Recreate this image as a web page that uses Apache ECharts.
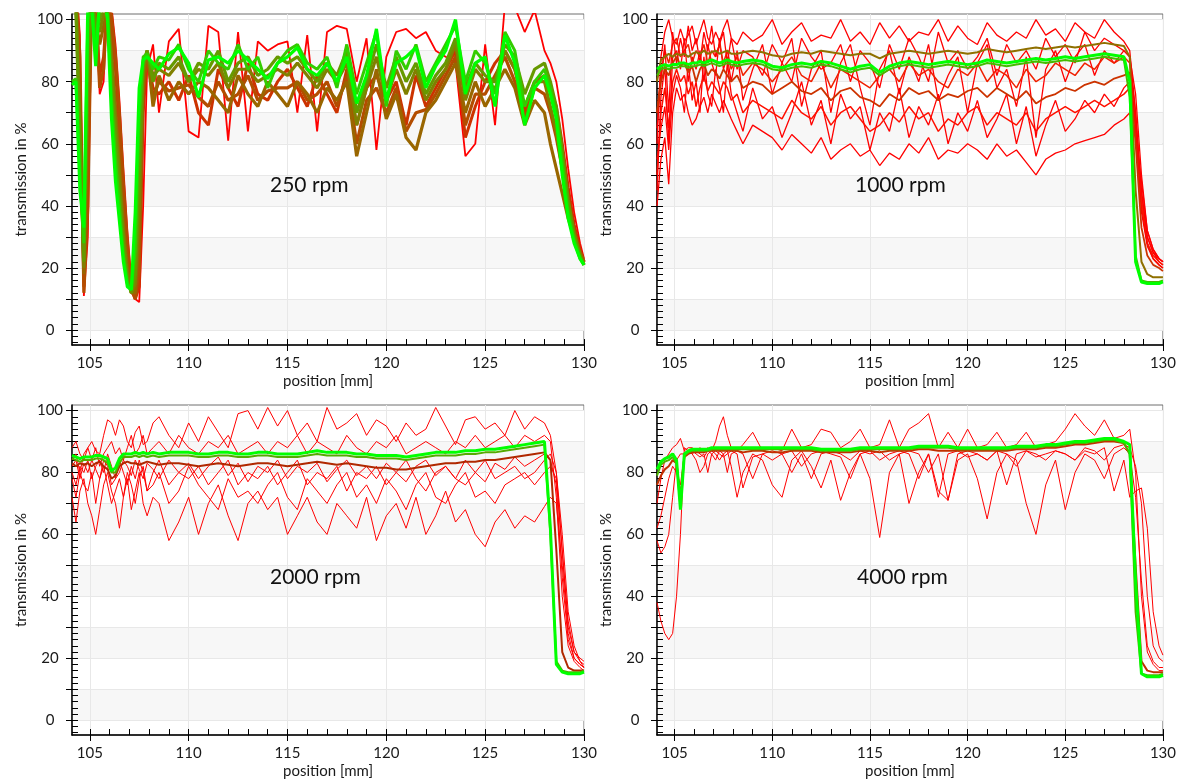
<!DOCTYPE html>
<html><head><meta charset="utf-8">
<script src="https://cdn.jsdelivr.net/npm/echarts@6/dist/echarts.min.js"></script>
<style>html,body{margin:0;padding:0;background:#fff}#c{width:1179px;height:782px}</style>
</head><body><div id="c"></div>
<script>
// ---------- shared x positions (mm) ----------
const positions = [104.1,104.3,104.5,104.7,104.9,105.1,105.3,105.5,105.7,105.9,
 106.1,106.3,106.5,106.7,106.9,107.1,107.3,107.5,107.7,107.9,
 108.2,108.5,109,109.5,110,110.5,111,111.5,112,112.5,
 113,113.5,114,114.5,115,115.5,116,116.5,117,117.5,
 118,118.5,119,119.5,120,120.5,121,121.5,122,122.5,
 123,123.5,124,124.5,125,125.5,126,126.5,127,127.5,
 128,128.3,128.6,128.9,129.2,129.5,129.8,130];

// ---------- tick labels ----------
const xMajorTicks = [105,110,115,120,125,130];
const xMinorTicks = [105,106,107,108,109,110,111,112,113,114,115,116,117,118,119,120,121,122,123,124,125,126,127,128,129,130];
const yMajorTicks = [0,10,20,30,40,50,60,70,80,90,100];
const yLabelTicks = [0,20,40,60,80,100];
const yMinorTicks = [-4,-2,0,2,4,6,8,10,12,14,16,18,20,22,24,26,28,30,32,34,36,38,40,42,44,46,48,50,52,54,56,58,60,62,64,66,68,70,72,74,76,78,80,82,84,86,88,90,92,94,96,98,100];
const panelTitles = ['250 rpm','1000 rpm','2000 rpm','4000 rpm'];

// ---------- 250 rpm ----------
const rpm250_red = [112,112,95,11,30,108,106,76,80,110,
 104,92,74,52,32,16,10,9,40,84,
 92,70,93,97,64,62,98,96,61,96,
 64,93,90,92,93,70,95,64,96,98,
 97,80,94,58,88,96,97,94,96,90,
 88,86,56,60,92,66,105,104,96,103,
 90,86,80,68,52,38,28,23];
const rpm250_brown1 = [112,110,80,14,50,110,104,82,88,108,
 98,84,64,42,24,13,10,14,70,88,
 78,76,80,74,82,70,66,84,78,72,
 86,76,74,80,84,78,72,82,76,70,
 84,66,78,82,74,80,66,82,72,78,
 84,90,62,72,80,86,90,84,70,80,
 82,78,72,60,46,34,26,22];
const rpm250_brown3 = [112,111,88,12,40,110,105,78,84,109,
 101,88,69,47,28,14,10,20,76,89,
 75,80,77,78,79,75,72,80,74,76,
 82,74,77,78,78,80,74,76,80,72,
 82,60,74,78,70,78,64,70,71,76,
 82,88,66,76,76,82,88,80,68,78,
 76,70,62,52,40,32,25,22];
const rpm250_brown2 = [110,106,70,18,70,110,100,92,98,104,
 90,72,54,34,20,12,12,30,82,90,
 72,82,74,80,76,80,78,74,70,82,
 76,72,80,76,72,80,76,70,78,74,
 80,56,70,84,68,76,62,58,70,74,
 80,86,70,80,72,78,84,78,66,74,
 70,60,52,44,36,30,25,22];
const rpm250_olive2 = [108,104,65,20,80,109,98,96,102,103,
 86,67,50,31,18,12,15,40,84,90,
 82,84,82,86,80,84,82,86,78,84,
 84,80,82,84,82,86,82,78,84,80,
 86,66,78,88,74,84,76,84,74,80,
 84,92,74,84,80,80,90,84,72,80,
 80,72,64,52,40,31,24,21];
const rpm250_olive = [104,103,60,22,90,108,95,100,105,102,
 82,62,45,28,16,12,18,52,86,90,
 80,86,84,88,80,86,84,90,80,86,
 88,82,84,88,86,88,84,80,86,82,
 90,70,80,92,78,88,80,86,76,82,
 86,94,78,86,82,80,92,88,76,84,
 86,80,72,58,42,31,24,21];
const rpm250_lime = [80,81,50,28,100,106,90,106,108,102,
 75,55,40,24,15,13,26,68,88,89,
 84,88,87,92,84,80,90,86,84,92,
 84,88,78,86,90,92,86,84,88,78,
 92,76,86,96,72,90,84,92,80,86,
 92,98,80,90,86,76,96,90,72,80,
 84,78,70,54,38,29,23,21];
const rpm250_green = [79,80,45,33,104,104,85,108,108,100,
 68,48,35,22,14,13,38,78,87,88,
 86,84,89,91,86,75,87,88,86,90,
 87,84,81,86,88,91,84,82,86,80,
 88,73,82,97,74,86,88,91,78,85,
 90,100,76,86,88,72,95,86,66,78,
 82,76,68,50,36,28,23,21];

// ---------- 1000 rpm ----------
const rpm1000_redHigh = [60,88,96,100,94,92,97,93,95,98,
 92,96,100,94,92,96,93,97,100,94,
 92,96,93,95,100,92,96,99,93,95,
 94,100,93,96,92,99,94,98,93,96,
 95,100,93,98,94,92,99,95,93,96,
 94,100,95,97,93,99,96,94,100,96,
 93,90,70,45,30,25,23,22];
const rpm1000_redLow = [40,55,62,47,70,78,74,76,70,66,
 68,72,75,70,76,73,70,74,71,68,
 64,60,66,64,62,58,63,60,57,62,
 55,58,60,56,58,53,57,55,60,57,
 62,55,58,57,60,58,55,60,56,58,
 54,50,55,57,58,60,61,62,63,66,
 68,70,62,48,32,26,23,22];
const rpm1000_redMid = [50,70,78,65,80,84,80,82,76,80,
 72,78,82,77,80,78,76,80,78,74,
 76,70,74,72,70,68,74,70,68,72,
 66,70,72,68,64,66,70,67,72,68,
 70,64,68,66,70,72,66,70,68,66,
 70,64,68,70,72,70,72,74,72,74,
 76,78,66,40,28,24,22,21];
const rpm1000_redUpper = [70,82,90,86,92,94,88,90,92,86,
 90,88,92,86,90,88,92,86,90,84,
 88,82,86,84,80,84,88,82,80,86,
 78,84,82,80,78,82,84,80,86,82,
 84,80,78,84,82,86,80,84,82,78,
 84,80,82,86,84,82,86,84,88,86,
 88,86,70,42,28,23,21,20];
const rpm1000_redA = [45,75,85,60,88,90,84,94,80,88,
 84,90,80,92,86,82,94,84,88,80,
 90,74,84,92,76,86,94,72,84,90,
 70,86,92,78,66,84,90,76,88,80,
 92,74,82,88,70,86,92,78,84,72,
 88,62,84,90,80,88,92,82,90,86,
 90,88,76,50,32,26,23,22];
const rpm1000_redB = [55,65,72,58,76,82,78,70,86,74,
 80,70,88,76,72,84,78,70,86,76,
 70,64,78,68,72,62,70,80,66,74,
 60,76,68,72,58,70,64,78,62,72,
 66,76,60,70,64,74,62,68,76,60,
 72,56,66,74,64,68,74,70,76,72,
 78,80,68,44,30,25,22,21];
const rpm1000_redC = [65,80,92,70,96,86,94,88,98,90,
 94,86,96,90,98,88,92,96,86,94,
 84,90,88,82,92,86,80,94,88,84,
 86,92,80,90,86,78,92,84,94,88,
 80,96,86,90,84,88,94,82,92,86,
 90,84,94,88,92,86,96,90,94,92,
 90,88,64,38,27,23,21,20];
const rpm1000_brown = [70,80,84,82,86,88,85,86,83,85,
 80,84,86,82,84,83,81,84,82,80,
 82,78,80,79,76,78,80,77,76,78,
 74,77,78,75,74,72,76,74,78,76,
 77,74,76,75,77,78,75,78,76,74,
 77,73,75,76,78,77,79,80,79,81,
 82,83,60,33,24,21,20,19];
const rpm1000_olive = [80,87,88,89,88,89,88.5,89,88,89,
 89.5,89,90,89,89.5,90,89,89.5,90,89,
 89,89.5,90,89.5,88.5,88,89,89.5,89,90,
 89.5,89,88.5,89,89,87.5,89,89.5,90,89.5,
 89,89.5,90,89.5,89,89.5,90.5,90,89.5,90,
 90.5,91,90.5,91,91.5,91,91.5,92,92.5,92,
 91.5,88,45,22,18,17,17,17];
const rpm1000_lime = [82,84,84.5,84,84.5,84.5,85,85,84.5,85,
 85,85.5,85,85.5,86,85.5,85,85.5,86,85.5,
 85,85.5,86,85.5,84,83.5,84.5,85,84.5,85.5,
 85,84,83,84,84.5,82,84,85,85.5,85,
 84.5,85,85.5,85,84.5,85,86,85.5,85,85.5,
 86,86.5,86,86.5,87,86.5,87,87.5,88,87.5,
 87,75,24,16,15.5,15.5,15.5,16];
const rpm1000_green = [84,85,85.5,85,85.5,85.5,86,86,85.5,86,
 86,86.5,86,86.5,87,86.5,86,86.5,87,86.5,
 86,86.5,87,86.5,85,84.5,85.5,86,85.5,86.5,
 86,85,84,85,85.5,83,85,86,86.5,86,
 85.5,86,86.5,86,85.5,86,87,86.5,86,86.5,
 87,87.5,87,87.5,88,87.5,88,88.5,89,88.5,
 88,80,22,15.5,15,15,15,15.5];

// ---------- 2000 rpm ----------
const rpm2000_redHigh = [88,90,86,84,88,90,87,86,92,97,
 96,92,97,95,90,88,93,95,89,90,
 96,98,92,88,96,90,98,93,88,99,
 100,94,101,95,100,92,96,90,101,94,
 96,99,92,97,95,90,96,92,94,101,
 95,89,97,98,94,96,92,100,94,98,
 96,92,80,55,30,22,20,19];
const rpm2000_redLow = [72,64,74,78,70,66,60,68,76,80,
 74,70,62,72,78,68,74,80,70,66,
 72,70,58,64,72,60,70,76,66,58,
 70,74,68,72,60,66,72,64,60,70,
 66,62,72,58,66,70,62,72,60,66,
 74,64,68,60,56,64,68,62,66,64,
 69,72,70,50,28,20,18,17];
const rpm2000_redMid = [80,76,82,80,84,78,82,84,80,86,
 82,78,84,80,76,82,78,84,80,74,
 80,84,76,80,78,82,76,80,84,76,
 80,78,82,76,80,84,76,80,78,82,
 74,80,78,82,76,80,84,78,74,80,
 82,78,76,80,84,78,80,82,78,80,
 84,86,80,60,35,24,19,18];
const rpm2000_redUpper = [84,86,80,86,88,84,88,82,86,88,
 90,86,88,84,88,92,86,88,92,86,
 88,90,86,92,88,86,90,88,92,86,
 88,90,86,90,88,92,86,90,88,86,
 92,88,86,90,88,92,86,88,90,88,
 86,90,88,92,88,90,92,88,92,90,
 92,90,72,40,24,19,17,16];
const rpm2000_redE = [82,84,78,83,80,84,81,78,84,82,
 76,78,80,84,82,79,84,81,78,83,
 81,78,84,80,83,78,82,85,79,83,
 77,82,80,84,78,82,80,83,77,81,
 84,79,82,78,83,80,77,82,84,79,
 82,78,84,80,77,83,81,85,82,84,
 86,84,76,46,26,20,18,17];
const rpm2000_redF = [78,72,80,76,74,80,70,78,82,76,
 70,74,78,72,80,76,70,78,82,74,
 76,80,70,74,82,76,72,68,78,72,
 74,70,76,80,72,68,78,74,70,76,
 80,72,76,70,78,74,68,76,80,72,
 70,76,80,72,74,70,76,78,80,76,
 80,82,78,54,32,22,19,17];
const rpm2000_brown = [83,82,83,82.5,83,82,83,83.5,82,81,
 78,79,82,83,83.5,83,83,82.5,83,83.5,
 83,82.5,83,83,82.5,82,82.5,83,82.5,82,
 82.5,83,83,82.5,82,82.5,83,83.5,83,82.5,
 83,82.5,82,81.5,81.5,81,81,81.5,82,82.5,
 83,83,83.5,83.5,84,84,84.5,85,85.5,86,
 86.5,84,55,22,17,16,16,16];
const rpm2000_lime = [84.5,84,83.5,84,84,84,84.5,84.5,84,83,
 80,80,83,85,85,85,85.5,85,85.5,85,
 85.5,85,85.5,85.5,85.5,85,85,85.5,85.5,85,
 85,85.5,85.5,85,85,85,85.5,86,85.5,85.5,
 85.5,85,85,84.5,84.5,84.5,84,84.5,85,85.5,
 85.5,85.5,86,86,86.5,86.5,87,87.5,88,88.5,
 89,60,19,16,15.5,15.5,15.5,16];
const rpm2000_green = [85.5,85,84.5,85,85,85,85.5,85.5,85,84.5,
 80.5,81.5,84.5,86,86,86,86.5,86,86.5,86,
 86.5,86,86.5,86.5,86.5,86,86,86.5,86.5,86,
 86,86.5,86.5,86,86,86,86.5,87,86.5,86.5,
 86.5,86,86,85.5,85.5,85.5,85,85.5,86,86.5,
 86.5,86.5,87,87,87.5,87.5,88,88.5,89,89.5,
 90,62,18,15.5,15,15,15,15.5];

// ---------- 4000 rpm ----------
const rpm4000_redHigh = [70,78,84,86,88,89,91,87,88,88,
 87,88,87,88,87,90,95,98,92,88,
 87,89,93,87,88,87,94,88,89,94,
 93,88,90,94,88,89,97,88,94,96,
 99,88,93,88,94,88,89,93,88,89,
 93,88,89,90,94,99,95,92,97,91,
 92,94,80,40,22,18,16,16];
const rpm4000_redLow = [62,66,72,78,82,80,76,86,87,86,
 84,80,82,86,87,86,84,86,87,82,
 72,80,86,84,76,72,84,87,82,75,
 84,71,80,86,78,59,80,86,70,80,
 86,74,71,84,86,78,65,80,86,84,
 70,60,76,84,68,80,86,84,78,86,
 88,86,72,45,24,19,17,17];
const rpm4000_redDeep = [38,32,28,26,28,40,60,88,87,86,
 87,86,85,87,86,84,87,86,80,86,
 87,86,78,86,87,86,80,86,78,86,
 87,86,84,87,86,87,84,86,87,86,
 80,86,71,86,87,86,84,87,86,82,
 87,86,84,87,86,84,88,87,84,88,
 89,88,82,70,40,24,20,19];
const rpm4000_redLate = [58,54,56,60,72,84,86,86,86,87,
 86,85,86,80,86,87,86,85,86,87,
 86,75,85,86,84,86,87,82,86,87,
 86,85,78,86,87,84,86,87,86,78,
 86,72,86,87,85,86,84,87,76,86,
 87,85,86,87,86,84,87,86,88,74,
 84,72,74,75,62,35,24,21];
const rpm4000_brown = [76,79,81,82,84,83,72,85,86,86.5,
 86.5,86.5,86.5,87,87,87,87,87,87,87,
 87,86.5,87,87,86.5,86.5,87,87,87,86.5,
 86.5,86.5,86.5,87,87,86.5,87,87,87,87.5,
 87.5,87,87,87,87,87,87,87,87,87.5,
 87.5,87.5,88,88,88.5,89,89,89.5,90,90,
 89.5,86,50,19,16,15.5,15.5,15.5];
const rpm4000_lime = [79,82.5,83.5,84,85,83,69,85.5,86.5,87,
 87,87,87,87,87.5,87.5,87.5,87.5,87.5,87.5,
 87.5,87.5,87.5,87.5,87.5,87.5,87.5,87.5,87.5,87,
 87,87,87,87.5,87.5,87.5,87.5,87.5,87.5,88,
 88,88,88,87.5,87.5,87.5,87.5,87.5,87.5,88,
 88,88,88.5,88.5,89,89.5,89.5,90,90.5,90.5,
 89.5,86,35,15,14.5,14.5,14.5,15];
const rpm4000_green = [81,83.5,84.5,85,86,84,68,86,87,87.5,
 87.5,87.5,87.5,87.5,88,88,88,88,88,88,
 88,88,88,88,88,88,88,88,88,87.5,
 87.5,87.5,87.5,88,88,88,88,88,88,88.5,
 88.5,88.5,88.5,88,88,88,88,88,88,88.5,
 88.5,88.5,89,89,89.5,90,90,90.5,91,91,
 90,89,45,15,14,14,14,14.5];

// ---------- build chart ----------
const panels = [
  [[rpm250_red,'#ff0000',1.8],[rpm250_brown1,'#cc3300',3],[rpm250_brown3,'#b34d00',3.2],[rpm250_brown2,'#996600',3.2],[rpm250_olive2,'#808000',3.2],[rpm250_olive,'#669900',3.2],[rpm250_lime,'#33cc00',3],[rpm250_green,'#00ff00',3.2]],
  [[rpm1000_redLow,'#ff0000',1.3],[rpm1000_redB,'#ff0000',1.3],[rpm1000_redMid,'#ff1000',1.5],[rpm1000_redA,'#ff0000',1.3],[rpm1000_redUpper,'#f02000',1.5],[rpm1000_redC,'#ff0000',1.3],[rpm1000_redHigh,'#ff0000',1.3],[rpm1000_brown,'#cc3300',1.8],[rpm1000_olive,'#8f7000',2],[rpm1000_lime,'#44bb00',2],[rpm1000_green,'#00ff00',3]],
  [[rpm2000_redLow,'#ff0000',1],[rpm2000_redF,'#ff0000',1],[rpm2000_redMid,'#ff0000',1],[rpm2000_redE,'#ff0000',1],[rpm2000_redUpper,'#ff0000',1],[rpm2000_redHigh,'#ff0000',1],[rpm2000_brown,'#b02800',2],[rpm2000_lime,'#55aa00',2],[rpm2000_green,'#00ff00',3]],
  [[rpm4000_redDeep,'#ff0000',1],[rpm4000_redLate,'#ff0000',1],[rpm4000_redLow,'#ff0000',1],[rpm4000_redHigh,'#ff0000',1],[rpm4000_brown,'#c03000',2],[rpm4000_lime,'#4cb300',2],[rpm4000_green,'#00ff00',3]]
];

const gridRects = [
  {left:72, top:14, width:512, height:331},
  {left:657, top:14, width:512, height:331},
  {left:72, top:405, width:512, height:330},
  {left:657, top:405, width:512, height:330}
];
const titlePos = [{left:270,top:175},{left:855,top:175},{left:270,top:567},{left:857,top:567}];
const FONT = 'Lato, "Open Sans", sans-serif';
const TXT = '#1a1a1a';

const grid = [], xAxis = [], yAxis = [], series = [], title = [];
gridRects.forEach((r, g) => {
  grid.push(Object.assign({show:true, borderColor:'#6e6e6e', borderWidth:1, backgroundColor:'transparent'}, r));
  xAxis.push({
    gridIndex:g, type:'value', min:104.1, max:130, position:'bottom',
    name:'position [mm]', nameLocation:'middle', nameGap:29,
    nameTextStyle:{fontFamily:FONT, fontSize:15, color:TXT},
    axisLine:{show:true, onZero:false, lineStyle:{color:'#000', width:1.5}},
    axisTick:{show:true, inside:false, length:6, customValues:xMajorTicks, lineStyle:{color:'#000'}},
    axisLabel:{show:true, customValues:xMajorTicks, margin:11, fontFamily:FONT, fontSize:15, color:TXT},
    splitLine:{show:true, lineStyle:{color:'#e8e8e8', width:1}}
  });
  xAxis.push({
    gridIndex:g, type:'value', min:104.1, max:130, position:'bottom', offset:0,
    axisLine:{show:false, onZero:false},
    axisTick:{show:true, inside:true, length:6, customValues:xMinorTicks, lineStyle:{color:'#000'}},
    axisLabel:{show:false}, splitLine:{show:false}
  });
  yAxis.push({
    gridIndex:g, type:'value', min:-4.8, max:101.8, position:'left',
    name:'transmission in %', nameLocation:'middle', nameGap:43, nameRotate:90,
    nameTextStyle:{fontFamily:FONT, fontSize:15, color:TXT},
    axisLine:{show:true, onZero:false, lineStyle:{color:'#000', width:1.5}},
    axisTick:{show:true, inside:false, length:6, customValues:yMajorTicks, lineStyle:{color:'#000'}},
    axisLabel:{show:true, customValues:yLabelTicks, align:'center', margin:22, fontFamily:FONT, fontSize:15, color:TXT},
    splitLine:{show:true, lineStyle:{color:'#e8e8e8', width:1}},
    splitArea:{show:true, areaStyle:{color:['#f7f7f7','#ffffff']}}
  });
  yAxis.push({
    gridIndex:g, type:'value', min:-4.8, max:101.8, position:'left', offset:0,
    axisLine:{show:false, onZero:false},
    axisTick:{show:true, inside:true, length:6, customValues:yMinorTicks, lineStyle:{color:'#000'}},
    axisLabel:{show:false}, splitLine:{show:false}, splitArea:{show:false}
  });
  panels[g].forEach(([vals, color, w]) => {
    series.push({
      type:'line', xAxisIndex:2*g, yAxisIndex:2*g, showSymbol:false, symbol:'none',
      clip:true, silent:true, animation:false,
      lineStyle:{color:color, width:w}, itemStyle:{color:color},
      data: positions.map((x, i) => [x, vals[i]])
    });
  });
  title.push({text:panelTitles[g], left:titlePos[g].left, top:titlePos[g].top, padding:0,
    textStyle:{fontFamily:FONT, fontSize:21, fontWeight:'normal', color:'#111'}});
});

const chart = echarts.init(document.getElementById('c'), null, {renderer:'canvas', width:1179, height:782});
chart.setOption({backgroundColor:'#ffffff', animation:false, title, grid, xAxis, yAxis, series});
</script>
</body></html>
